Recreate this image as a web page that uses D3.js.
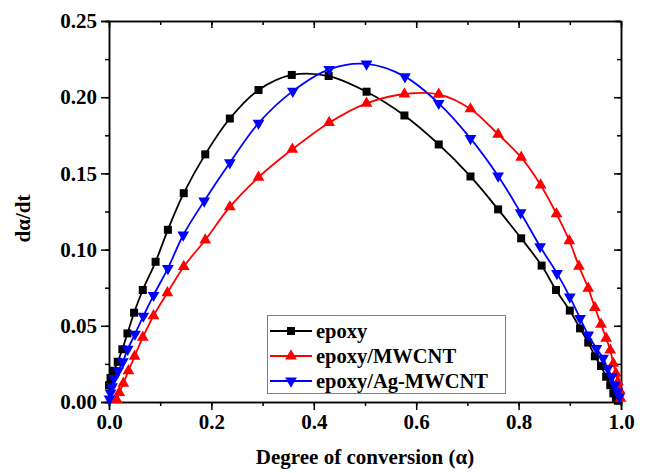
<!DOCTYPE html>
<html>
<head>
<meta charset="UTF-8">
<title>Degree of conversion</title>
<script src="https://cdn.jsdelivr.net/npm/d3@7/dist/d3.min.js"></script>
<style>
    body { margin: 0; background: #fff; }
    text { font-family: "Liberation Serif", "Times New Roman", serif; font-weight: bold; fill: #000; }
    .axis path, .axis line { stroke: #000; stroke-width: 1.5px; }
</style>
</head>
<body>
<script>

    // data
    var epoxyA = [0, 0.003, 0.009, 0.017, 0.026, 0.036, 0.049, 0.066, 0.091, 0.115, 0.146, 0.188, 0.236, 0.292, 0.357, 0.429,
        0.503, 0.577, 0.644, 0.706, 0.760, 0.805, 0.845, 0.873, 0.900, 0.920, 0.936, 0.949, 0.961, 0.971, 0.979, 0.985, 0.990, 0.994];
    var epoxyV = [0.011, 0.0157, 0.0205, 0.0264, 0.0346, 0.045, 0.0586, 0.0735, 0.092, 0.113, 0.137, 0.1625, 0.186, 0.2047, 0.2146, 0.2139,
        0.2036, 0.188, 0.169, 0.148, 0.1264, 0.1074, 0.0895, 0.0735, 0.060, 0.0483, 0.039, 0.030, 0.0236, 0.0166, 0.011, 0.0057, 0.0026, 0.0008];

    var mwcntA = [0.015, 0.020, 0.028, 0.038, 0.050, 0.066, 0.087, 0.114, 0.146, 0.188, 0.236, 0.292, 0.358, 0.430, 0.503, 0.577,
        0.644, 0.706, 0.760, 0.805, 0.843, 0.874, 0.899, 0.918, 0.936, 0.949, 0.961, 0.971, 0.979, 0.985, 0.990, 0.994, 0.997, 0.999];
    var mwcntV = [0.0015, 0.0062, 0.0122, 0.0205, 0.030, 0.0424, 0.0566, 0.0717, 0.0888, 0.1063, 0.128, 0.1474, 0.1658, 0.1833, 0.196, 0.2021,
        0.2019, 0.1923, 0.1757, 0.1605, 0.1424, 0.1234, 0.1058, 0.089, 0.0746, 0.062, 0.051, 0.0418, 0.034, 0.0253, 0.0188, 0.0133, 0.0079, 0.0024];

    var agA = [0.001, 0.003, 0.006, 0.010, 0.018, 0.027, 0.0365, 0.0508, 0.067, 0.087, 0.115, 0.145, 0.186, 0.236, 0.292, 0.359, 0.430,
        0.503, 0.578, 0.644, 0.706, 0.760, 0.804, 0.842, 0.875, 0.900, 0.920, 0.936, 0.952, 0.965, 0.974, 0.982, 0.988, 0.993, 0.997];
    var agV = [0.002, 0.006, 0.010, 0.0155, 0.0205, 0.0264, 0.0346, 0.0446, 0.0564, 0.070, 0.0877, 0.1096, 0.1319, 0.157, 0.183, 0.204, 0.2183,
        0.2218, 0.2135, 0.196, 0.173, 0.1483, 0.1242, 0.102, 0.0844, 0.069, 0.0549, 0.044, 0.0352, 0.0287, 0.0221, 0.0166, 0.011, 0.0068, 0.0035];

    var seriesNames = ["epoxy", "epoxy/MWCNT", "epoxy/Ag-MWCNT"];
    var xTicks = [0, 0.2, 0.4, 0.6, 0.8, 1.0];
    var yTicks = [0, 0.05, 0.10, 0.15, 0.20, 0.25];

    var width = 646,
        height = 473;
    // plot box (window.top is reserved, so no plain "top")
    var pLeft = 109, pRight = 621, pTop = 21, pBottom = 402;

    var svg = d3.select("body").append("svg")
        .attr("width", width)
        .attr("height", height);

    var x = d3.scaleLinear().domain([0, 1]).range([pLeft, pRight]);
    var y = d3.scaleLinear().domain([0, 0.25]).range([pBottom, pTop]);

    // minor ticks first, then major with labels
    svg.append("g").attr("class", "axis")
        .attr("transform", "translate(0," + pBottom + ")")
        .call(d3.axisBottom(x).tickValues(d3.range(0, 1.01, 0.1)).tickSize(4).tickFormat(""));
    svg.append("g").attr("class", "axis")
        .attr("transform", "translate(0," + pBottom + ")")
        .call(d3.axisBottom(x).tickValues(xTicks).tickSize(8).tickPadding(4).tickFormat(d3.format(".1f")));
    svg.append("g").attr("class", "axis")
        .attr("transform", "translate(" + pLeft + ",0)")
        .call(d3.axisLeft(y).tickValues(d3.range(0, 0.251, 0.025)).tickSize(4).tickFormat(""));
    svg.append("g").attr("class", "axis")
        .attr("transform", "translate(" + pLeft + ",0)")
        .call(d3.axisLeft(y).tickValues(yTicks).tickSize(8).tickPadding(4).tickFormat(d3.format(".2f")));

    // mirrored axes, ticks inward
    svg.append("g").attr("class", "axis")
        .attr("transform", "translate(0," + pTop + ")")
        .call(d3.axisBottom(x).tickValues(d3.range(0, 1.01, 0.1)).tickSize(4).tickSizeOuter(0).tickFormat(""));
    svg.append("g").attr("class", "axis")
        .attr("transform", "translate(0," + pTop + ")")
        .call(d3.axisBottom(x).tickValues(xTicks).tickSize(7).tickSizeOuter(0).tickFormat(""));
    svg.append("g").attr("class", "axis")
        .attr("transform", "translate(" + pRight + ",0)")
        .call(d3.axisLeft(y).tickValues(d3.range(0, 0.251, 0.025)).tickSize(4).tickSizeOuter(0).tickFormat(""));
    svg.append("g").attr("class", "axis")
        .attr("transform", "translate(" + pRight + ",0)")
        .call(d3.axisLeft(y).tickValues(yTicks).tickSize(7).tickSizeOuter(0).tickFormat(""));

    svg.selectAll(".axis text")
        .style("font-size", "21px")
        .style("font-family", "'Liberation Serif', serif")
        .style("font-weight", "bold");

    // axis titles
    svg.append("text")
        .attr("x", (pLeft + pRight) / 2)
        .attr("y", 464)
        .attr("text-anchor", "middle")
        .style("font-size", "21px")
        .text("Degree of conversion (\u03B1)");

    svg.append("text")
        .attr("transform", "translate(30," + ((pTop + pBottom) / 2 + 7) + ") rotate(-90)")
        .attr("text-anchor", "middle")
        .style("font-size", "21px")
        .text("d\u03B1/dt");

    var series = [
        {name: seriesNames[0], a: epoxyA, v: epoxyV, color: "#000000", symbol: d3.symbolSquare, size: 64, rot: 0},
        {name: seriesNames[1], a: mwcntA, v: mwcntV, color: "#ff0000", symbol: d3.symbolTriangle, size: 60, rot: 0},
        {name: seriesNames[2], a: agA, v: agV, color: "#0000ff", symbol: d3.symbolTriangle, size: 60, rot: 180}
    ];

    var line = d3.line()
        .x(function(d) { return x(d[0]); })
        .y(function(d) { return y(d[1]); })
        .curve(d3.curveCatmullRom.alpha(0.5));

    series.forEach(function(s) {
        var pts = s.a.map(function(a, i) { return [a, s.v[i]]; });
        svg.append("path")
            .datum(pts)
            .attr("d", line)
            .attr("fill", "none")
            .attr("stroke", s.color)
            .attr("stroke-width", 1.8);
        svg.append("g").selectAll("path")
            .data(pts)
            .enter().append("path")
            .attr("d", d3.symbol().type(s.symbol).size(s.size))
            .attr("transform", function(d) {
                return "translate(" + x(d[0]) + "," + y(d[1]) + ") rotate(" + s.rot + ")";
            })
            .attr("fill", s.color);
    });

    // legend
    var lg = svg.append("g");
    lg.append("rect")
        .attr("x", 267.5).attr("y", 315.5)
        .attr("width", 238).attr("height", 78)
        .attr("fill", "#fff")
        .attr("stroke", "#808080")
        .attr("stroke-width", 1);
    series.forEach(function(s, i) {
        var yy = 331 + i * 25;
        lg.append("line")
            .attr("x1", 270).attr("x2", 312)
            .attr("y1", yy).attr("y2", yy)
            .attr("stroke", s.color).attr("stroke-width", 1.8);
        lg.append("path")
            .attr("d", d3.symbol().type(s.symbol).size(s.size))
            .attr("transform", "translate(291," + yy + ") rotate(" + s.rot + ")")
            .attr("fill", s.color);
        lg.append("text")
            .attr("x", 316)
            .attr("y", yy)
            .attr("dy", "0.32em")
            .style("font-size", "20.5px")
            .text(s.name);
    });

</script>
</body>
</html>
